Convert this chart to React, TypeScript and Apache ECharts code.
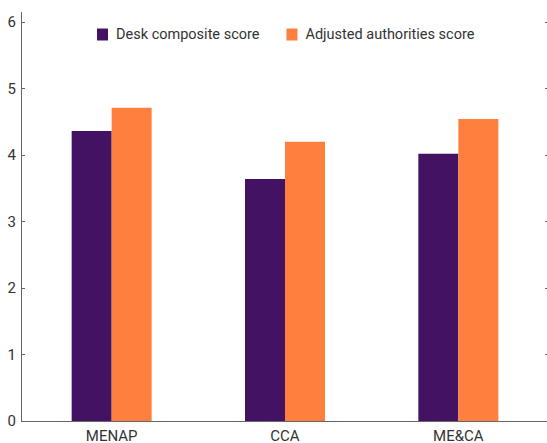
import React, { useEffect, useRef } from "react";
import * as echarts from "echarts";

const categories = ["MENAP", "CCA", "ME&CA"];
const deskScores = [4.36, 3.64, 4.02];
const adjustedScores = [4.71, 4.2, 4.54];
const seriesNames = ["Desk composite score", "Adjusted authorities score"];

const FONT = "Roboto, 'Liberation Sans', sans-serif";

export default function App() {
  const ref = useRef<HTMLDivElement>(null);
  useEffect(() => {
    if (!ref.current) return;
    const chart = echarts.init(ref.current, undefined, { renderer: "svg" });
    chart.setOption({
      animation: false,
      textStyle: { fontFamily: FONT },
      grid: { left: 25, right: 2, top: 22, bottom: 22, containLabel: false },
      legend: {
        left: 92,
        top: 22,
        icon: "rect",
        itemWidth: 11,
        itemHeight: 12,
        itemGap: 27,
        textStyle: { fontFamily: FONT, fontSize: 14.5, color: "#333", padding: [0, 0, 0, 3] },
        data: seriesNames,
      },
      xAxis: {
        type: "category",
        data: categories,
        axisLine: { lineStyle: { color: "#666", width: 1 } },
        axisTick: { inside: true, length: 5, lineStyle: { color: "#666" } },
        axisLabel: { fontFamily: FONT, fontSize: 15, color: "#333", margin: 7 },
      },
      yAxis: [
        {
          type: "value",
          min: 0,
          max: 6,
          interval: 1,
          offset: 4,
          splitLine: { show: false },
          axisLine: { show: true, lineStyle: { color: "#666" } },
          axisTick: { show: true, inside: true, length: 4, lineStyle: { color: "#666" } },
          axisLabel: { fontFamily: FONT, fontSize: 15, color: "#333", margin: 5 },
        },
        {
          type: "value",
          min: 0,
          max: 6,
          interval: 1,
          position: "right",
          splitLine: { show: false },
          axisLine: { show: false },
          axisTick: { show: true, inside: false, length: 2, lineStyle: { color: "#666" } },
          axisLabel: { show: false },
        },
      ],
      graphic: [
        {
          type: "line",
          shape: { x1: 21.5, y1: 12, x2: 21.5, y2: 22 },
          style: { stroke: "#666", lineWidth: 1 },
        },
        {
          type: "line",
          shape: { x1: 21, y1: 421.5, x2: 25, y2: 421.5 },
          style: { stroke: "#666", lineWidth: 1 },
        },
      ],
      series: [
        {
          name: seriesNames[0],
          type: "bar",
          data: deskScores,
          barWidth: 40,
          barGap: "0%",
          itemStyle: { color: "#441263" },
        },
        {
          name: seriesNames[1],
          type: "bar",
          data: adjustedScores,
          barWidth: 40,
          barGap: "0%",
          itemStyle: { color: "#FF7F3F" },
        },
      ],
    });
    return () => chart.dispose();
  }, []);
  return (
    <div
      ref={ref}
      style={{ position: "fixed", left: 0, top: 0, width: 547, height: 443, background: "#fff" }}
    />
  );
}
